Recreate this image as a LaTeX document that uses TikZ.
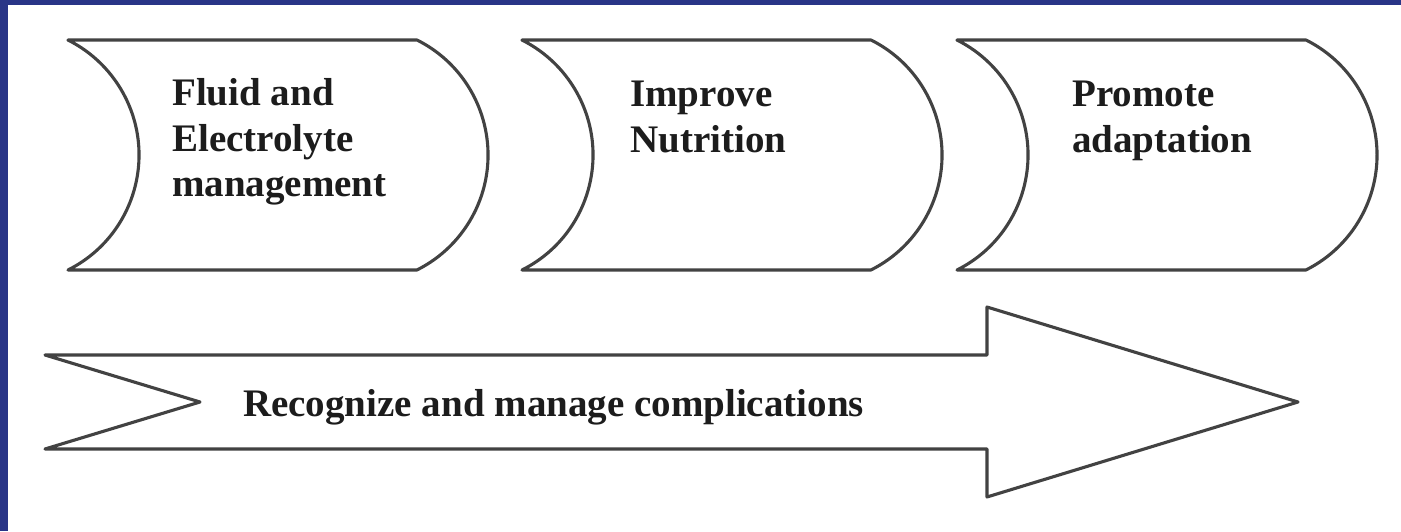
\documentclass[tikz,border=0pt]{standalone}
\usepackage{fontspec}
\setmainfont{Liberation Serif}
\definecolor{frameblue}{RGB}{41,53,135}
\definecolor{linegray}{RGB}{66,66,66}
\definecolor{textgray}{RGB}{28,28,28}
\begin{document}
\begin{tikzpicture}[x=1pt,y=1pt,
  shapeline/.style={draw=linegray, line width=3.1pt, line join=round, fill=white},
  boxtext/.style={anchor=base west, inner sep=0pt, align=left, text=textgray,
    font=\fontsize{39}{45.5}\selectfont\bfseries}]
\fill[frameblue] (0,0) rectangle (1401,531);
\fill[white] (8,0) rectangle (1401,526);
\useasboundingbox (0,0) rectangle (1401,531);
% three stage shapes
\foreach \x in {68,522,957} {
  \draw[shapeline] (\x,491) -- ++(349,0)
    arc[start angle=63.4,end angle=-63.4,radius=128.6]
    -- (\x,261)
    arc[start angle=-63.4,end angle=63.4,radius=128.6] -- cycle;
}
% base anchor of a multi-line node = baseline of its last line
\node[boxtext] (fluid) at (172,334) {Fluid and\\Electrolyte\\management};
\node[boxtext] (nutri) at (630,378.5) {Improve\\Nutrition};
\node[boxtext] (adapt) at (1072,378.5) {Promote\\adaptation};
% long arrow
\draw[shapeline] (45,176) -- (987,176) -- (987,224) -- (1298,129)
  -- (987,34) -- (987,82) -- (45,82) -- (200,129) -- cycle;
\node[boxtext] (recog) at (243,115) {Recognize and manage complications};
\end{tikzpicture}
\end{document}
